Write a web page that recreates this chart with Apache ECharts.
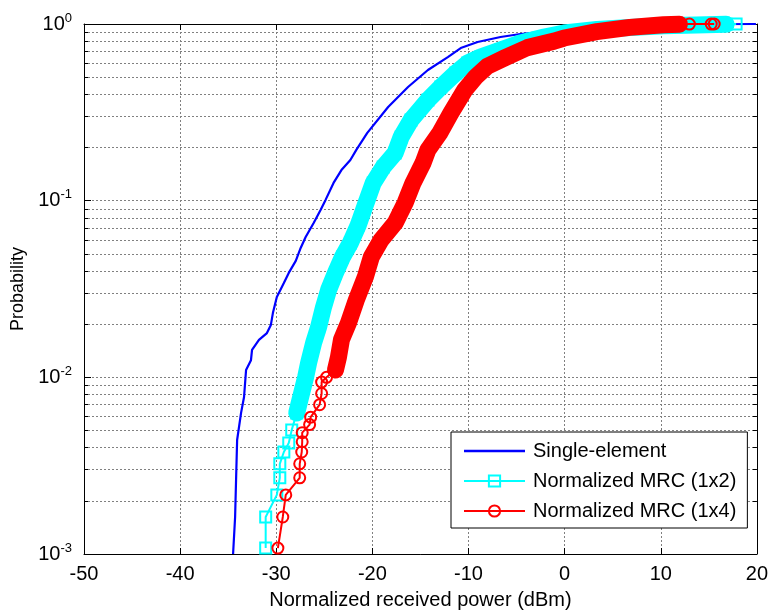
<!DOCTYPE html>
<html><head><meta charset="utf-8">
<script src="https://cdn.jsdelivr.net/npm/echarts@6/dist/echarts.min.js"></script>
<style>html,body{margin:0;padding:0;background:#fff}#c{width:771px;height:615px}</style>
</head><body><div id="c"></div>
<script>
// ---- data ----
const xTicks = [-50, -40, -30, -20, -10, 0, 10, 20];
const yDecades = [0.001, 0.01, 0.1, 1];
const seriesNames = ['Single-element', 'Normalized MRC (1x2)', 'Normalized MRC (1x4)'];

const blueX = [-34.49, -34.28, -34.18, -34.07, -33.66, -33.35, -33.14, -32.63, -32.52, -31.80, -30.97, -30.56, -30.35, -29.94, -29.21, -28.70, -27.97, -27.46, -26.94, -26.11, -25.39, -24.87, -24.04, -23.22, -22.29, -21.67, -20.53, -18.36, -16.29, -14.22, -12.15, -10.81, -9.05, -6.67, -4.60, -2.53, 0.0, 3.0, 6.0, 10.0, 14.0, 19.9];
const blueP = [0.0010, 0.00162, 0.00263, 0.00442, 0.00629, 0.00774, 0.0110, 0.0125, 0.0143, 0.0163, 0.0178, 0.0198, 0.0231, 0.0285, 0.0342, 0.039, 0.0456, 0.054, 0.0623, 0.0748, 0.0885, 0.101, 0.126, 0.149, 0.170, 0.194, 0.242, 0.339, 0.440, 0.549, 0.650, 0.731, 0.791, 0.844, 0.878, 0.901, 0.93, 0.955, 0.975, 0.99, 0.997, 1.0];

const cyanX = [-31.1, -31.1, -29.94, -29.63, -29.63, -29.21, -28.70, -28.39, -27.87, -27.46, -26.94, -26.63, -26.11, -25.59, -25.08, -24.56, -23.84, -23.11, -22.29, -21.46, -20.73, -19.91, -18.87, -17.63, -17.01, -15.98, -14.22, -12.88, -11.32, -10.08, -8.74, -6.67, -4.60, -2.12, -0.05, 3.36, 6.77, 10.29, 13.7, 16.8, 17.84];
const cyanP = [0.00108, 0.00162, 0.00216, 0.0027, 0.00324, 0.00378, 0.00425, 0.00504, 0.00629, 0.00774, 0.01005, 0.0121, 0.0157, 0.0193, 0.025, 0.0312, 0.039, 0.048, 0.0576, 0.0728, 0.0946, 0.126, 0.155, 0.186, 0.229, 0.286, 0.371, 0.440, 0.528, 0.601, 0.650, 0.713, 0.780, 0.844, 0.889, 0.930, 0.955, 0.978, 0.988, 0.996, 1.0];

const redX = [-29.83, -29.32, -29.01, -27.56, -27.56, -27.35, -27.3, -27.3, -26.53, -26.42, -25.49, -25.28, -25.28, -24.77, -23.84, -23.53, -23.22, -22.49, -21.67, -20.73, -20.11, -19.08, -17.63, -16.60, -15.77, -14.74, -14.22, -12.98, -11.84, -10.39, -9.26, -8.01, -6.26, -3.88, -1.09, -0.05, 3.36, 6.77, 10.29, 11.94, 12.98, 15.25, 15.56];
const redP = [0.00108, 0.00162, 0.00216, 0.0027, 0.00324, 0.00378, 0.00432, 0.00486, 0.0054, 0.00595, 0.0070, 0.0081, 0.0094, 0.0100, 0.0110, 0.0130, 0.0163, 0.0203, 0.0274, 0.037, 0.048, 0.060, 0.0748, 0.097, 0.126, 0.163, 0.194, 0.242, 0.313, 0.423, 0.501, 0.578, 0.642, 0.735, 0.80, 0.833, 0.905, 0.957, 0.990, 0.997, 0.9989, 0.9995, 1.0];

// ---- chart ----
const FONT = "'Liberation Sans', Arial, Helvetica, sans-serif";
const pairs = (xs, ps) => xs.map((x, i) => [x, ps[i]]);
const blueData = pairs(blueX, blueP);
const cyanData = pairs(cyanX, cyanP);
const redData = pairs(redX, redP);
const cyanBand = cyanData.filter(d => d[1] >= 0.006 && d[0] <= 16.8);
const redBand = redData.filter(d => d[1] >= 0.0110 && d[0] <= 12.0);

const gridLine = { show: true, lineStyle: { color: '#808080', width: 1, type: [2, 2] } };
const xCommon = { type: 'value', min: xTicks[0], max: xTicks[xTicks.length - 1], interval: 10,
  axisLine: { show: true, onZero: false, lineStyle: { color: '#000', width: 1 } },
  axisTick: { show: true, inside: true, length: 6, lineStyle: { color: '#000' } } };
const yCommon = { type: 'log', logBase: 10, min: yDecades[0], max: yDecades[yDecades.length - 1], splitNumber: 3,
  axisLine: { show: true, onZero: false, lineStyle: { color: '#000', width: 1 } },
  axisTick: { show: true, inside: true, length: 7, lineStyle: { color: '#000' } },
  minorTick: { show: true, splitNumber: 9, length: 4, lineStyle: { color: '#000' } } };

const chart = echarts.init(document.getElementById('c'), null, { renderer: 'canvas' });
chart.setOption({
  animation: false,
  backgroundColor: '#fff',
  grid: { left: 84, right: 9, top: 24, bottom: 61, containLabel: false },
  xAxis: [
    Object.assign({}, xCommon, { position: 'bottom',
      name: 'Normalized received power (dBm)', nameLocation: 'middle', nameGap: 36,
      nameTextStyle: { fontFamily: FONT, fontSize: 20, color: '#000' },
      axisLabel: { fontFamily: FONT, fontSize: 20, color: '#000', margin: 10 },
      splitLine: gridLine }),
    Object.assign({}, xCommon, { position: 'top', axisLabel: { show: false }, splitLine: { show: false } })
  ],
  yAxis: [
    Object.assign({}, yCommon, { position: 'left',
      name: 'Probability', nameLocation: 'middle', nameGap: 49,
      nameTextStyle: { fontFamily: FONT, fontSize: 18, color: '#000' },
      axisLabel: { margin: 12, color: '#000',
        formatter: v => '{b|10}{s|' + Math.round(Math.log10(v)) + '}',
        rich: { b: { fontFamily: FONT, fontSize: 20, color: '#000' },
                s: { fontFamily: FONT, fontSize: 13, color: '#000', padding: [0, 0, 12, 0] } } },
      splitLine: gridLine, minorSplitLine: gridLine }),
    Object.assign({}, yCommon, { position: 'right', axisLabel: { show: false }, splitLine: { show: false } })
  ],
  legend: {
    data: [
      { name: seriesNames[0], icon: 'path://M0,0H60V2.4H0Z' },
      { name: seriesNames[1] },
      { name: seriesNames[2] }
    ],
    orient: 'vertical', left: 451, top: 432,
    padding: [9, 11, 7, 12], itemWidth: 61, itemHeight: 14, itemGap: 10,
    backgroundColor: '#fff', borderColor: '#000', borderWidth: 1, borderRadius: 0,
    selectedMode: false,
    textStyle: { fontFamily: FONT, fontSize: 20, color: '#000', padding: [0, 0, 0, 3] }
  },
  series: [
    { name: seriesNames[0], type: 'line', data: blueData, symbol: 'none', showSymbol: false, clip: false,
      lineStyle: { color: '#0000ff', width: 2.2 }, itemStyle: { color: '#0000ff' }, z: 2 },
    { name: 'band1x2', type: 'line', data: cyanBand, symbol: 'none', silent: true, clip: false,
      lineStyle: { color: '#00ffff', width: 17, cap: 'round', join: 'round' }, z: 3 },
    { name: seriesNames[1], type: 'line', data: cyanData, symbol: 'rect', symbolSize: 11, showSymbol: true, clip: false,
      lineStyle: { color: '#00ffff', width: 2 },
      itemStyle: { color: 'rgba(0,0,0,0)', borderColor: '#00ffff', borderWidth: 2 }, z: 4 },
    { name: 'band1x4', type: 'line', data: redBand, symbol: 'none', silent: true, clip: false,
      lineStyle: { color: '#ff0000', width: 17, cap: 'round', join: 'round' }, z: 5 },
    { name: seriesNames[2], type: 'line', data: redData, symbol: 'circle', symbolSize: 11, showSymbol: true, clip: false,
      lineStyle: { color: '#ff0000', width: 2 },
      itemStyle: { color: 'rgba(0,0,0,0)', borderColor: '#ff0000', borderWidth: 2 }, z: 6 }
  ]
});
</script>
</body></html>
